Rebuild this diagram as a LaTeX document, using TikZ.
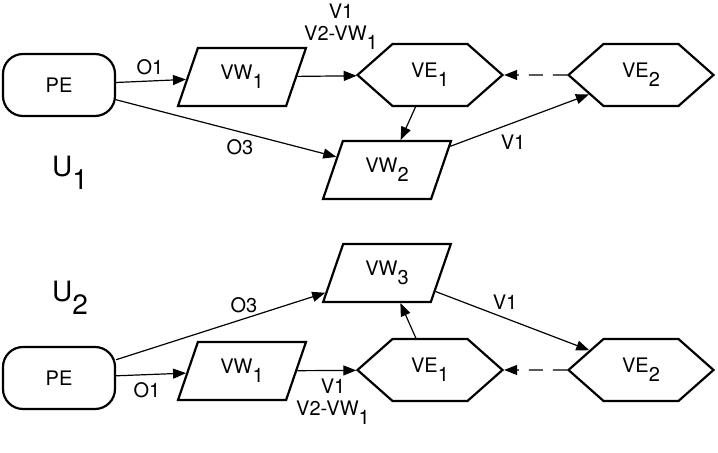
\documentclass[tikz,border=0pt]{standalone}
\usepackage{fontspec}
\setmainfont{TeX Gyre Heros}
\usetikzlibrary{shapes.geometric,shapes.symbols,arrows.meta}
\newcommand{\ix}[1]{\raisebox{-0.45em}{#1}}
\tikzset{
  pebox/.style={draw,line width=1.1pt,rounded corners=10pt,minimum width=56pt,minimum height=31pt},
  vwbox/.style={draw,line width=1.1pt,trapezium,trapezium left angle=67.5,trapezium right angle=112.5,
    trapezium stretches=true,minimum width=64pt,minimum height=29pt,inner sep=0pt},
  vebox/.style={draw,line width=1.1pt,signal,signal to=west and east,signal pointer angle=83,
    minimum width=72.5pt,minimum height=31pt,inner sep=0pt},
  lnk/.style={line width=0.6pt,-{Triangle[length=6.5pt,width=5pt]}},
  lbl/.style={align=center,inner sep=0pt,font=\fontsize{10}{11}\selectfont},
  ulbl/.style={inner sep=0pt,font=\fontsize{14}{16}\selectfont}
}
\begin{document}
\begin{tikzpicture}[x=0.5pt,y=0.5pt]
\useasboundingbox (0,0) rectangle (718,453);

% U1
\node[pebox] (pea) at (59,368) {PE};
\node[vwbox] (vwa) at (242,376) {VW\ix{1}};
\node[vebox] (vea) at (430,378) {VE\ix{1}};
\node[vebox] (veb) at (641,378) {VE\ix{2}};
\node[vwbox] (vwb) at (387,283) {VW\ix{2}};

\draw[lnk] (pea) -- (vwa);
\draw[lnk] (pea) -- (vwb);
\draw[lnk] (vwa) -- (vea);
\draw[lnk] (vea) -- (vwb);
\draw[lnk] (vwb) -- (veb);
\draw[lnk,dash pattern=on 7pt off 5pt] (veb) -- (vea);

\node[lbl] (oa) at (150,386) {O1};
\node[lbl] (ob) at (240,306) {O3};
\node[lbl] (va) at (341,426) {V1\\V2-VW\ix{1}};
\node[lbl] (vb) at (513,311) {V1};
\node[ulbl] (ua) at (70,280) {U\ix{1}};

% U2
\node[pebox] (peb) at (59,75) {PE};
\node[vwbox] (vwc) at (242,82) {VW\ix{1}};
\node[vebox] (vec) at (430,83) {VE\ix{1}};
\node[vebox] (ved) at (641,83) {VE\ix{2}};
\node[vwbox] (vwd) at (387,180) {VW\ix{3}};

\draw[lnk] (peb) -- (vwd);
\draw[lnk] (peb) -- (vwc);
\draw[lnk] (vwc) -- (vec);
\draw[lnk] (vec) -- (vwd);
\draw[lnk] (vwd) -- (ved);
\draw[lnk,dash pattern=on 7pt off 5pt] (ved) -- (vec);

\node[lbl] (oc) at (147,63) {O1};
\node[lbl] (od) at (244,148) {O3};
\node[lbl] (vc) at (333,51) {V1\\V2-VW\ix{1}};
\node[lbl] (vd) at (505,151) {V1};
\node[ulbl] (ub) at (70,155) {U\ix{2}};
\end{tikzpicture}
\end{document}
